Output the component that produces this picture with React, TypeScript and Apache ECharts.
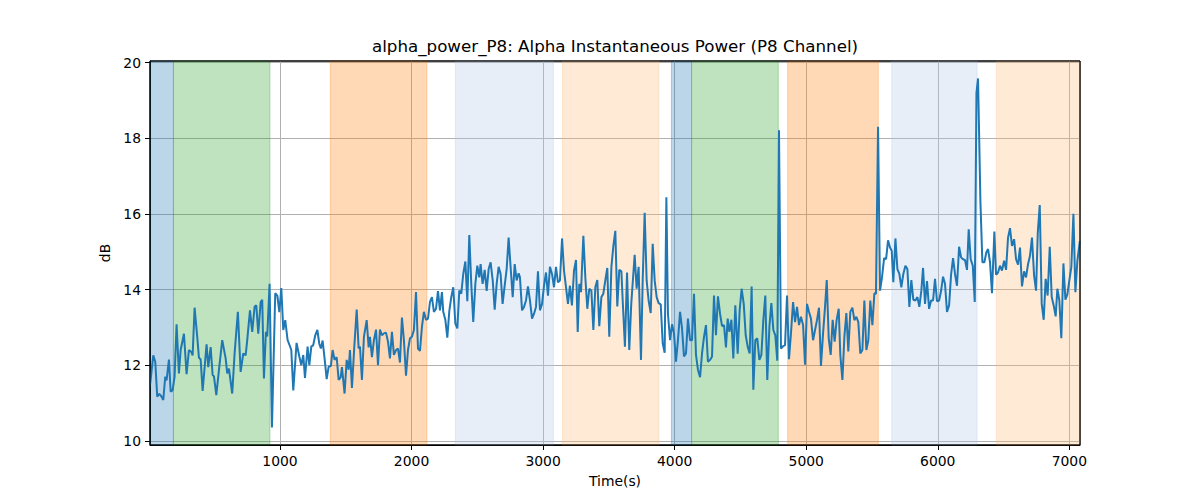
import React, { useEffect, useRef } from "react";
import * as echarts from "echarts";

const titleText = "alpha_power_P8: Alpha Instantaneous Power (P8 Channel)";
const xName = "Time(s)";
const yName = "dB";

const times = [
  12, 37, 52, 67, 82, 98, 113, 128, 138, 156, 169, 184, 199, 214, 232, 245, 270, 290, 308, 326, 336, 351, 371, 384, 397, 412, 442, 455, 473, 488, 498, 516, 536, 561, 587, 599, 612, 637, 655, 680, 701, 721, 739, 751, 772, 789, 807, 820, 835, 853, 865, 878, 893, 903, 921,
  939, 964, 980, 995, 1010, 1025, 1040, 1058, 1076, 1086, 1101, 1126, 1147, 1162, 1177, 1190, 1210, 1223, 1238, 1253, 1268, 1284, 1299, 1311, 1324, 1339, 1355, 1370, 1387, 1400, 1415, 1431, 1446, 1461, 1471, 1491, 1507, 1522, 1532, 1547, 1565, 1583, 1598, 1608, 1623, 1638, 1659, 1674, 1684, 1699, 1714, 1730, 1745, 1760, 1775, 1790, 1806, 1821, 1836, 1851, 1866, 1882, 1897,
  1912, 1927, 1942, 1958, 1973, 1988, 2003, 2018, 2034, 2049, 2064, 2079, 2094, 2110, 2125, 2140, 2155, 2170, 2186, 2201, 2216, 2231, 2241, 2257, 2272, 2287, 2302, 2317, 2333, 2348, 2363, 2378, 2393, 2409, 2424, 2439, 2454, 2469, 2485, 2500, 2515, 2525, 2540, 2556, 2571, 2586, 2601, 2617, 2632, 2647, 2662, 2677, 2692, 2708, 2723, 2738, 2753, 2769, 2784, 2799, 2814,
  2824, 2840, 2855, 2870, 2885, 2900, 2916, 2931, 2946, 2961, 2976, 2992, 3007, 3022, 3037, 3052, 3068, 3083, 3098, 3113, 3128, 3144, 3159, 3174, 3189, 3204, 3219, 3235, 3250, 3263, 3275, 3288, 3306, 3321, 3336, 3351, 3367, 3382, 3397, 3412, 3427, 3443, 3458, 3473, 3488, 3503, 3519, 3534, 3549, 3564, 3579, 3595, 3605, 3622, 3638, 3655, 3670, 3696, 3711, 3726,
  3744, 3757, 3772, 3787, 3802, 3818, 3833, 3848, 3863, 3878, 3894, 3909, 3924, 3937, 3949, 3965, 3980, 3995, 4010, 4025, 4041, 4056, 4071, 4086, 4101, 4117, 4132, 4147, 4162, 4177, 4193, 4208, 4223, 4238, 4253, 4269, 4284, 4299, 4314, 4329, 4345, 4360, 4375, 4390, 4403, 4416, 4431, 4446, 4461, 4479, 4494, 4509, 4525, 4540, 4555, 4570, 4585, 4598,
  4613, 4628, 4644, 4659, 4674, 4689, 4704, 4720, 4735, 4750, 4765, 4780, 4793, 4808, 4824, 4839, 4854, 4869, 4884, 4900, 4915, 4930, 4945, 4960, 4976, 4991, 5006, 5021, 5036, 5052, 5067, 5082, 5097, 5112, 5128, 5143, 5156, 5171, 5186, 5201, 5216, 5231, 5247, 5259, 5275, 5290, 5305, 5320, 5335, 5351, 5366, 5381, 5396, 5411, 5427, 5442, 5457, 5472, 5487, 5503, 5518, 5530, 5546,
  5561, 5576, 5592, 5607, 5622, 5637, 5650, 5662, 5678, 5693, 5708, 5723, 5738, 5754, 5769, 5784, 5799, 5814, 5830, 5845, 5860, 5875, 5888, 5903, 5918, 5934, 5949, 5964, 5979, 5994, 6010, 6025, 6040, 6055, 6070, 6086, 6101, 6116, 6131, 6146, 6162, 6177, 6192, 6207, 6222, 6235, 6250, 6266, 6281, 6294, 6306,
  6324, 6339, 6354, 6369, 6382, 6397, 6412, 6430, 6443, 6458, 6473, 6488, 6504, 6519, 6534, 6549, 6564, 6580, 6595, 6610, 6625, 6640, 6656, 6671, 6686, 6701, 6716, 6732, 6747, 6760, 6775, 6790, 6805, 6820, 6835, 6851, 6866, 6881, 6896, 6909, 6924, 6939, 6955, 6970, 6985, 7000, 7015, 7031, 7046, 7061, 7080,
];

const values = [
  11.47, 12.26, 12.09, 11.17, 11.24, 11.18, 11.08, 11.7, 11.6, 12.15, 11.3, 11.34, 11.7, 13.08, 11.78, 12.4, 12.83, 11.76, 12.4, 12.35, 12.26, 13.52, 12.75, 12.2, 12.15, 11.32, 12.55, 11.95, 12.48, 11.74, 11.71, 11.21, 11.87, 12.66, 12.18, 11.78, 11.91, 11.25, 12.31, 13.41, 11.82, 12.31, 12.26, 12.66, 13.45, 12.88, 13.55, 13.58, 12.83, 13.67, 13.73, 11.65, 12.88, 12.76, 14.15,
  10.35, 13.9, 13.84, 13.4, 14.04, 12.93, 13.19, 12.66, 12.5, 12.4, 11.33, 12.59, 12.23, 12.0, 12.27, 11.66, 12.49, 12.0, 12.49, 12.53, 12.79, 12.93, 12.56, 12.44, 12.65, 12.18, 11.63, 11.96, 11.98, 12.4, 12.14, 12.21, 11.61, 11.68, 11.95, 11.25, 12.14, 11.88, 12.4, 11.4, 12.49, 13.47, 12.44, 12.49, 11.61, 12.75, 13.19, 12.47, 12.75, 12.21, 12.66, 12.94, 12.0, 12.94, 12.79, 12.84, 12.86, 12.62, 12.18, 12.88, 12.27, 12.4, 12.44,
  12.07, 13.26, 12.66, 11.72, 12.4, 12.71, 12.75, 12.93, 13.93, 12.44, 12.38, 13.01, 13.41, 13.2, 13.23, 13.67, 13.8, 13.41, 13.49, 13.96, 13.45, 13.93, 13.41, 13.2, 12.73, 13.43, 13.8, 14.06, 13.1, 12.97, 13.97, 13.89, 14.41, 14.74, 13.69, 15.44, 14.15, 13.14, 14.15, 14.63, 14.32, 14.67, 14.15, 14.52, 13.96, 14.54, 14.72, 14.24, 13.47, 14.15, 14.6, 14.41, 13.62, 14.1, 14.54, 15.37, 14.59, 13.8, 14.67, 14.24, 14.43,
  14.32, 13.45, 13.54, 13.71, 14.08, 13.71, 13.23, 13.36, 13.54, 14.48, 13.45, 13.62, 14.1, 14.45, 13.84, 14.6, 14.41, 14.06, 14.6, 14.19, 14.24, 15.35, 14.5, 14.06, 13.62, 14.1, 13.58, 14.5, 14.78, 12.88, 14.15, 13.93, 15.42, 14.32, 13.49, 14.02, 13.97, 12.93, 14.06, 14.25, 13.03, 13.8, 13.89, 14.25, 14.57, 12.75, 14.59, 15.15, 15.55, 13.55, 14.52, 14.48, 13.71, 12.49, 14.45, 12.4, 13.62, 14.92, 14.02, 14.6,
  12.14, 14.24, 16.03, 14.24, 13.71, 13.38, 15.21, 14.24, 13.8, 13.64, 13.61, 12.58, 12.33, 16.44, 13.36, 12.66, 13.08, 12.84, 12.09, 12.66, 13.41, 12.97, 12.23, 12.31, 13.23, 12.66, 12.66, 13.89, 12.27, 11.88, 11.68, 12.31, 12.75, 13.06, 12.09, 12.14, 12.23, 13.84, 12.79, 13.82, 13.36, 13.03, 13.06, 12.47, 13.23, 12.88, 13.2, 12.18, 13.58, 12.3, 13.45, 14.02, 13.62, 12.79, 12.49, 12.31, 14.08, 11.35,
  12.66, 12.71, 12.14, 12.27, 13.19, 13.84, 11.61, 13.01, 13.64, 12.93, 12.79, 12.12, 18.21, 12.44, 12.5, 12.53, 13.84, 12.16, 12.84, 13.67, 13.14, 13.54, 13.06, 13.28, 13.06, 12.01, 13.62, 13.41, 13.23, 12.66, 12.93, 13.19, 13.52, 11.98, 12.84, 13.54, 14.25, 12.71, 12.27, 13.2, 12.62, 13.19, 13.49, 12.27, 11.61, 12.75, 13.38, 12.36, 13.41, 13.52, 13.19, 13.28, 13.14, 12.31, 12.4, 13.71, 12.4, 12.66, 13.71, 13.06, 13.9, 13.89, 18.3,
  13.97, 14.32, 14.83, 14.8, 15.3, 15.11, 15.02, 14.19, 15.35, 14.54, 14.41, 14.06, 14.41, 14.63, 14.54, 13.54, 14.25, 13.73, 13.71, 13.8, 13.54, 13.97, 14.57, 13.62, 14.22, 13.49, 13.71, 13.71, 14.28, 13.69, 13.71, 13.96, 14.34, 14.15, 13.41, 13.58, 14.39, 14.83, 14.41, 14.1, 15.13, 14.85, 14.8, 14.78, 14.52, 15.59, 14.8, 14.63, 13.67, 19.2, 19.58,
  16.33, 14.72, 14.72, 14.98, 15.07, 14.72, 13.9, 15.53, 14.39, 14.45, 14.63, 14.5, 14.76, 14.52, 15.37, 15.62, 15.15, 15.33, 14.8, 14.66, 15.11, 14.08, 14.48, 14.32, 14.67, 14.89, 15.37, 14.37, 13.97, 15.5, 16.23, 13.62, 13.2, 14.28, 13.84, 15.13, 13.8, 13.58, 13.29, 14.02, 13.71, 12.71, 14.69, 13.73, 13.87, 14.24, 14.59, 16.0, 13.93, 14.76, 15.28,
];

const bandStarts = [12, 190, 1382, 2333, 3146, 3975, 4129, 4859, 5650, 6445];
const bandEnds = [190, 924, 2117, 3078, 3881, 4129, 4788, 5548, 6299, 7081];
const bandColors = [
  "rgba(31,119,180,0.3)",
  "rgba(44,160,44,0.3)",
  "rgba(255,127,14,0.3)",
  "rgba(174,199,232,0.3)",
  "rgba(255,187,120,0.3)",
  "rgba(31,119,180,0.3)",
  "rgba(44,160,44,0.3)",
  "rgba(255,127,14,0.3)",
  "rgba(174,199,232,0.3)",
  "rgba(255,187,120,0.3)",
];

const xTicks = [1000, 2000, 3000, 4000, 5000, 6000, 7000];
const yTicks = [10, 12, 14, 16, 18, 20];
const xMin = 12;
const xMax = 7081;
const yMin = 9.89;
const yMax = 20.04;

const FONT = "DejaVu Sans";

export default function App() {
  const ref = useRef<HTMLDivElement>(null);

  useEffect(() => {
    if (!ref.current) return;
    const chart = echarts.init(ref.current, undefined, { renderer: "svg" });
    const seriesData = times.map((t, i) => [t, values[i]]);
    const areas = bandStarts.map((s, i) => [
      {
        xAxis: s,
        itemStyle: { color: bandColors[i], borderColor: bandColors[i], borderWidth: 1 },
      },
      { xAxis: bandEnds[i] },
    ]);
    const axisCommon = {
      axisLine: { show: true, onZero: false, lineStyle: { color: "#000", width: 1 } },
      splitLine: { show: true, lineStyle: { color: "#b0b0b0", width: 1 } },
      nameTextStyle: { fontFamily: FONT, fontSize: 13.9, color: "#000" },
    };
    chart.setOption({
      animation: false,
      backgroundColor: "#fff",
      title: {
        text: titleText,
        left: 615,
        top: 37,
        padding: 0,
        textAlign: "center",
        textStyle: { fontFamily: FONT, fontSize: 16.7, fontWeight: "normal", color: "#000" },
      },
      grid: {
        left: 150,
        right: 120,
        top: 61,
        bottom: 55,
        show: true,
        borderColor: "#000",
        borderWidth: 1,
        backgroundColor: "transparent",
      },
      graphic: [
        {
          type: "rect",
          z: 100,
          silent: true,
          shape: { x: 150, y: 61, width: 930, height: 384 },
          style: { fill: "none", stroke: "#000", lineWidth: 1 },
        },
      ],
      xAxis: {
        type: "value",
        min: xMin,
        max: xMax,
        name: xName,
        nameLocation: "middle",
        nameGap: 29,
        ...axisCommon,
        axisTick: { show: true, inside: false, length: 5, lineStyle: { color: "#000" }, customValues: xTicks },
        axisLabel: {
          customValues: xTicks,
          margin: 9,
          color: "#000",
          fontSize: 13.9,
          fontFamily: FONT,
          formatter: (v: number) => String(v),
        },
      },
      yAxis: {
        type: "value",
        min: yMin,
        max: yMax,
        name: yName,
        nameLocation: "middle",
        nameRotate: 90,
        nameGap: 33,
        ...axisCommon,
        axisTick: { show: true, inside: false, length: 5, lineStyle: { color: "#000" }, customValues: yTicks },
        axisLabel: {
          customValues: yTicks,
          margin: 9,
          color: "#000",
          fontSize: 13.9,
          fontFamily: FONT,
          formatter: (v: number) => String(v),
        },
      },
      series: [
        {
          type: "line",
          data: seriesData,
          showSymbol: false,
          symbol: "none",
          lineStyle: { color: "#1f77b4", width: 2 },
          z: 3,
          markArea: { silent: true, data: areas },
        },
      ],
    });
    return () => chart.dispose();
  }, []);

  return (
    <div
      ref={ref}
      style={{ position: "fixed", left: 0, top: 0, width: 1200, height: 500, background: "#fff" }}
    />
  );
}
